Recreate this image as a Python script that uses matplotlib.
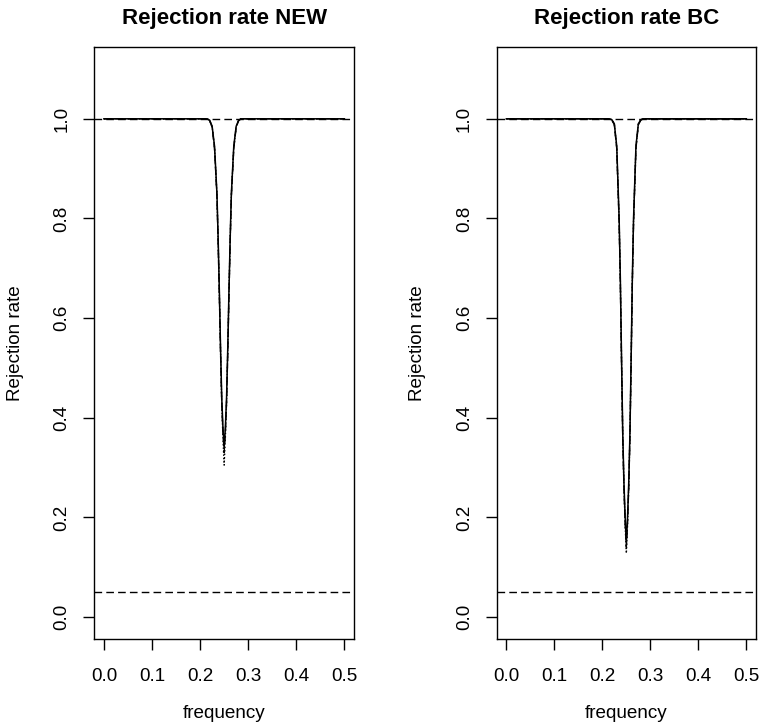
import matplotlib.pyplot as plt

plt.rcParams["font.family"] = ["Liberation Sans", "DejaVu Sans"]

# Frequency grid (denser around the dip at 0.25).
freq = [0.0, 0.1, 0.2, 0.21, 0.215, 0.22, 0.225, 0.23, 0.235, 0.2375, 0.24,
        0.2425, 0.245, 0.2475, 0.25, 0.2525, 0.255, 0.2575, 0.26, 0.2625,
        0.265, 0.27, 0.275, 0.28, 0.285, 0.29, 0.3, 0.4, 0.5]

# Rejection rates, NEW test (three overlapping curves).
new_solid = [1.0, 1.0, 1.0, 1.0, 1.0, 0.997, 0.985, 0.945, 0.85, 0.76, 0.655,
             0.54, 0.44, 0.38, 0.34, 0.38, 0.44, 0.54, 0.655, 0.76, 0.85,
             0.945, 0.985, 0.997, 1.0, 1.0, 1.0, 1.0, 1.0]
new_dashed = [1.0, 1.0, 1.0, 1.0, 1.0, 0.996, 0.983, 0.94, 0.845, 0.752, 0.645,
              0.53, 0.43, 0.37, 0.33, 0.37, 0.43, 0.53, 0.645, 0.752, 0.845,
              0.94, 0.983, 0.996, 1.0, 1.0, 1.0, 1.0, 1.0]
new_dotted = [1.0, 1.0, 1.0, 1.0, 1.0, 0.996, 0.984, 0.942, 0.848, 0.755, 0.65,
              0.535, 0.43, 0.36, 0.305, 0.36, 0.43, 0.535, 0.65, 0.755, 0.848,
              0.942, 0.984, 0.996, 1.0, 1.0, 1.0, 1.0, 1.0]

# Rejection rates, BC test.
bc_solid = [1.0, 1.0, 1.0, 1.0, 1.0, 0.998, 0.99, 0.945, 0.80, 0.68, 0.52,
            0.37, 0.27, 0.20, 0.148, 0.20, 0.27, 0.37, 0.52, 0.68, 0.80,
            0.945, 0.99, 0.998, 1.0, 1.0, 1.0, 1.0, 1.0]
bc_dashed = [1.0, 1.0, 1.0, 1.0, 1.0, 0.997, 0.988, 0.94, 0.79, 0.67, 0.51,
             0.36, 0.26, 0.19, 0.14, 0.19, 0.26, 0.36, 0.51, 0.67, 0.79,
             0.94, 0.988, 0.997, 1.0, 1.0, 1.0, 1.0, 1.0]
bc_dotted = [1.0, 1.0, 1.0, 1.0, 1.0, 0.998, 0.989, 0.942, 0.795, 0.675, 0.515,
             0.365, 0.262, 0.185, 0.128, 0.185, 0.262, 0.365, 0.515, 0.675, 0.795,
             0.942, 0.989, 0.998, 1.0, 1.0, 1.0, 1.0, 1.0]

ref_levels = [1.0, 0.05]
x_ticks = [0.0, 0.1, 0.2, 0.3, 0.4, 0.5]
y_ticks = [0.0, 0.2, 0.4, 0.6, 0.8, 1.0]

fig = plt.figure(figsize=(7.61, 7.26), dpi=100)
ax_new = fig.add_axes([0.1239, 0.1198, 0.3413, 0.8154])
ax_bc = fig.add_axes([0.6527, 0.1198, 0.3407, 0.8154])

panels = [
    (ax_new, "Rejection rate NEW", new_solid, new_dashed, new_dotted),
    (ax_bc, "Rejection rate BC", bc_solid, bc_dashed, bc_dotted),
]

for ax, title, solid, dashed, dotted in panels:
    ax.plot(freq, solid, color="black", linewidth=1.1, linestyle="-")
    ax.plot(freq, dashed, color="black", linewidth=1.0, linestyle=(0, (5.5, 3)))
    ax.plot(freq, dotted, color="black", linewidth=1.0, linestyle=(0, (1, 1.5)))
    for level in ref_levels:
        ax.axhline(level, color="black", linewidth=1.0, linestyle=(0, (5.5, 3)))

    ax.set_xlim(-0.02, 0.52)
    ax.set_ylim(-0.044, 1.144)
    ax.set_xticks(x_ticks)
    ax.set_xticklabels([f"{t:.1f}" for t in x_ticks])
    ax.set_yticks(y_ticks)
    ax.set_yticklabels([f"{t:.1f}" for t in y_ticks], rotation=90, va="center")
    ax.tick_params(direction="out", length=8, width=1, labelsize=13.6, color="black")
    ax.tick_params(axis="x", pad=13)
    ax.tick_params(axis="y", pad=9)
    for spine in ax.spines.values():
        spine.set_linewidth(1.0)
        spine.set_color("black")

    ax.set_xlabel("frequency", fontsize=13.6, va="center")
    ax.xaxis.set_label_coords(0.5, -0.125)
    ax.set_ylabel("Rejection rate", fontsize=13.6, va="center")
    ax.yaxis.set_label_coords(-0.305, 0.5)

    ax.text(0.5, 1.049, title, transform=ax.transAxes, ha="center", va="center",
            fontsize=16, fontweight="bold")

fig.savefig("out.png", dpi=100)
